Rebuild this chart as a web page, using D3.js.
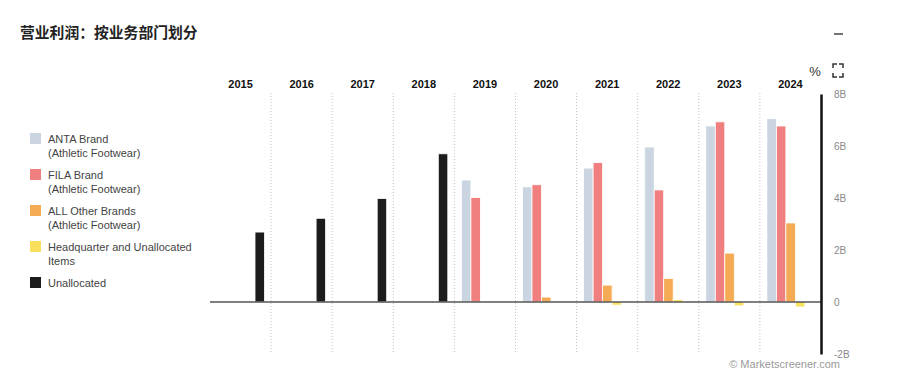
<!DOCTYPE html>
<html>
<head>
<meta charset="utf-8">
<script src="https://cdn.jsdelivr.net/npm/d3@7"></script>
<style>
  body { margin: 0; background: #fff; }
  svg { font-family: "Liberation Sans", Arial, sans-serif; }
</style>
</head>
<body>
<svg id="chart" width="900" height="376"></svg>
<script>
const years = ['2015', '2016', '2017', '2018', '2019', '2020', '2021', '2022', '2023', '2024']
const seriesNames = [
    ['ANTA Brand', '(Athletic Footwear)'],
    ['FILA Brand', '(Athletic Footwear)'],
    ['ALL Other Brands', '(Athletic Footwear)'],
    ['Headquarter and Unallocated', 'Items'],
    ['Unallocated']
]
const colors = ['#cbd5e1', '#f08080', '#f5aa54', '#f8e05c', '#1c1c1c']

// values in billions, null = no bar
const anta = [null, null, null, null, 4.69, 4.43, 5.15, 5.96, 6.77, 7.05]
const fila = [null, null, null, null, 4.02, 4.51, 5.36, 4.31, 6.93, 6.77]
const otherBrands = [null, null, null, null, null, 0.19, 0.65, 0.90, 1.88, 3.04]
const hqItems = [null, null, null, null, null, null, -0.12, 0.09, -0.15, -0.19]
const unallocated = [2.69, 3.22, 3.98, 5.70, null, null, null, null, null, null]
const series = [anta, fila, otherBrands, hqItems, unallocated]

const yTicks = [-2, 0, 2, 4, 6, 8]

const svg = d3.select('#chart')

svg.append('text')
    .attr('x', 20).attr('y', 38)
    .attr('font-size', 14.8).attr('font-weight', 'bold')
    .attr('fill', '#222')
    .style('font-family', '"Noto Sans CJK SC", sans-serif')
    .text('营业利润：按业务部门划分')

// top right controls
svg.append('line')
    .attr('x1', 834).attr('x2', 843).attr('y1', 34).attr('y2', 34)
    .attr('stroke', '#444').attr('stroke-width', 1.5)
svg.append('text')
    .attr('x', 815).attr('y', 76)
    .attr('text-anchor', 'middle').attr('font-size', 13).attr('fill', '#333')
    .text('%')
const fs = svg.append('g').attr('fill', 'none').attr('stroke', '#333').attr('stroke-width', 1.5)
fs.append('path').attr('d', 'M833,68 V64 H837 M839,64 H843 V68 M843,73 V77 H839 M837,77 H833 V73')

const x = d3.scaleBand().domain(years).range([210, 821])
const inner = d3.scaleBand().domain(d3.range(series.length)).range([7, 54.5])
const y = d3.scaleLinear().domain([-2, 8]).range([354, 94])

// year labels
svg.append('g')
    .selectAll('text')
    .data(years)
    .enter()
    .append('text')
    .attr('x', d => x(d) + x.bandwidth() / 2)
    .attr('y', 88)
    .attr('text-anchor', 'middle')
    .attr('font-size', 11).attr('font-weight', 'bold').attr('fill', '#111')
    .text(d => d)

// dotted separators
svg.append('g')
    .selectAll('line')
    .data(years.slice(1))
    .enter()
    .append('line')
    .attr('x1', d => x(d)).attr('x2', d => x(d))
    .attr('y1', 93).attr('y2', 353)
    .attr('stroke', '#c4c4c4').attr('stroke-width', 1)
    .attr('stroke-dasharray', '1,2')

// bars
series.forEach((vals, i) => {
    svg.append('g')
        .selectAll('rect')
        .data(vals.map((v, j) => ({ year: years[j], v })).filter(d => d.v !== null))
        .enter()
        .append('rect')
        .attr('x', d => x(d.year) + inner(i))
        .attr('width', inner.bandwidth())
        .attr('y', d => y(Math.max(0, d.v)))
        .attr('height', d => Math.abs(y(d.v) - y(0)))
        .attr('fill', colors[i])
        .attr('stroke', '#fff').attr('stroke-width', 0.8)
})

// zero line
svg.append('line')
    .attr('x1', 210).attr('x2', 821)
    .attr('y1', y(0)).attr('y2', y(0))
    .attr('stroke', '#555').attr('stroke-width', 1.3)

// right axis
const axis = svg.append('g')
    .attr('transform', 'translate(821,0)')
    .call(d3.axisRight(y).tickValues(yTicks).tickSize(0).tickPadding(13)
        .tickFormat(d => d === 0 ? '0' : d + 'B'))
axis.select('.domain').attr('stroke', '#111').attr('stroke-width', 2.5)
axis.selectAll('text').attr('font-size', 10).attr('fill', '#888')
    .style('font-family', '"Liberation Sans", Arial, sans-serif')

// legend
const legendY = [133, 169, 205, 241, 277]
const legend = svg.append('g')
seriesNames.forEach((lines, i) => {
    legend.append('rect')
        .attr('x', 30).attr('y', legendY[i])
        .attr('width', 11).attr('height', 11)
        .attr('fill', colors[i])
    lines.forEach((t, k) => {
        legend.append('text')
            .attr('x', 48).attr('y', legendY[i] + 10 + k * 14)
            .attr('font-size', 11).attr('fill', '#444')
            .text(t)
    })
})

svg.append('text')
    .attr('x', 840).attr('y', 368)
    .attr('text-anchor', 'end')
    .attr('font-size', 11).attr('fill', '#999')
    .text('© Marketscreener.com')
</script>
</body>
</html>
